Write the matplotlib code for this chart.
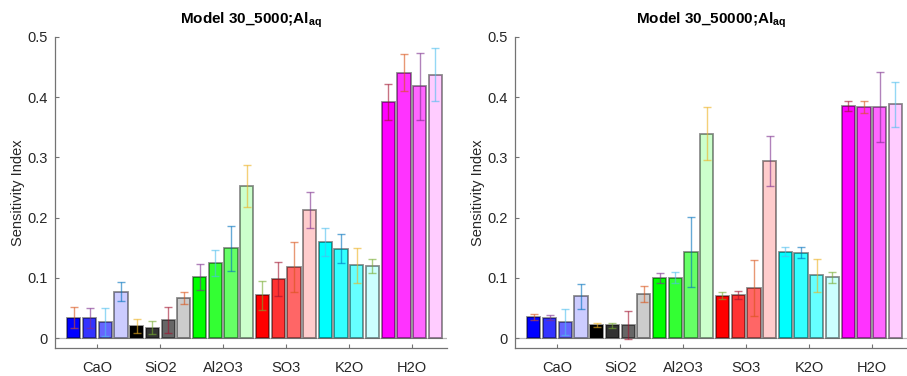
import numpy as np
import matplotlib.pyplot as plt

plt.rcParams['font.family'] = ['Liberation Sans', 'DejaVu Sans']
plt.rcParams['mathtext.fontset'] = 'custom'
plt.rcParams['mathtext.rm'] = 'Liberation Sans'
plt.rcParams['mathtext.bf'] = 'Liberation Sans:bold'

categories = ['CaO', 'SiO2', 'Al2O3', 'SO3', 'K2O', 'H2O']
yticks = [0, 0.1, 0.2, 0.3, 0.4, 0.5]
ytick_labels = ['0', '0.1', '0.2', '0.3', '0.4', '0.5']

# Sensitivity indices, one row per oxide, four estimates per oxide
si_5000 = [
    [0.034, 0.033, 0.027, 0.077],
    [0.020, 0.017, 0.030, 0.067],
    [0.101, 0.125, 0.149, 0.252],
    [0.071, 0.098, 0.118, 0.213],
    [0.159, 0.148, 0.121, 0.120],
    [0.392, 0.441, 0.418, 0.437],
]
err_5000 = [
    [0.017, 0.017, 0.023, 0.016],
    [0.012, 0.011, 0.022, 0.010],
    [0.022, 0.022, 0.037, 0.035],
    [0.024, 0.028, 0.041, 0.030],
    [0.023, 0.024, 0.029, 0.012],
    [0.030, 0.030, 0.056, 0.044],
]
si_50000 = [
    [0.035, 0.034, 0.027, 0.069],
    [0.021, 0.021, 0.022, 0.073],
    [0.100, 0.100, 0.143, 0.339],
    [0.070, 0.071, 0.083, 0.294],
    [0.143, 0.142, 0.104, 0.101],
    [0.386, 0.384, 0.384, 0.388],
]
err_50000 = [
    [0.005, 0.0045, 0.022, 0.020],
    [0.0035, 0.004, 0.023, 0.013],
    [0.0085, 0.009, 0.058, 0.044],
    [0.006, 0.007, 0.046, 0.041],
    [0.0075, 0.0085, 0.028, 0.009],
    [0.0085, 0.010, 0.0585, 0.037],
]

titles = ['Model 30_5000;Al$_{\\mathbf{aq}}$', 'Model 30_50000;Al$_{\\mathbf{aq}}$']

group_colors = [(0, 0, 1), (0, 0, 0), (0, 1, 0), (1, 0, 0), (0, 1, 1), (1, 0, 1)]
shade = [1.0, 0.8, 0.6, 0.2]
line_order = [(0.000, 0.447, 0.741), (0.850, 0.325, 0.098), (0.929, 0.694, 0.125),
              (0.494, 0.184, 0.556), (0.466, 0.674, 0.188), (0.301, 0.745, 0.933),
              (0.635, 0.078, 0.184)]

offsets = np.array([-0.375, -0.125, 0.125, 0.375])
bar_w = 0.21
axis_col = (0.45, 0.45, 0.45)
text_col = (0.15, 0.15, 0.15)


def blend(c, a):
    return tuple(a * ci + (1 - a) * 1.0 for ci in c)


def draw_panel(ax, vals, errs, title):
    vals = np.asarray(vals)
    errs = np.asarray(errs)
    x = np.arange(1, len(categories) + 1)
    k = 0
    for g in range(len(categories)):
        for j in range(4):
            xc = x[g] + offsets[j]
            ax.bar(xc, vals[g, j], width=bar_w,
                   color=blend(group_colors[g], shade[j]),
                   edgecolor=(0, 0, 0, 0.45), linewidth=1.3, zorder=2)
            ec = line_order[(2 * k + 1) % 7]
            ax.errorbar(xc, vals[g, j], yerr=errs[g, j], fmt='none',
                        ecolor=ec + (0.6,), elinewidth=1.0, capsize=3.0,
                        capthick=1.0, zorder=3)
            k += 1
    ax.axhline(0, color=(0.72, 0.72, 0.72), lw=0.9, zorder=1)
    ax.set_xlim(0.325, 6.56)
    ax.set_ylim(-0.0166, 0.5)
    ax.set_xticks(x)
    ax.set_xticklabels(categories)
    ax.set_yticks(yticks)
    ax.set_yticklabels(ytick_labels)
    ax.tick_params(direction='in', length=3, width=0.8, colors=axis_col,
                   labelcolor=text_col, labelsize=10.5)
    ax.tick_params(axis='x', pad=9)
    ax.tick_params(axis='y', pad=5)
    for s in ('top', 'right'):
        ax.spines[s].set_visible(False)
    for s in ('left', 'bottom'):
        ax.spines[s].set_color(axis_col)
        ax.spines[s].set_linewidth(0.9)
    ax.set_ylabel('Sensitivity Index', fontsize=10.5, color=text_col, labelpad=2)
    ax.set_title(title, fontsize=11, fontweight='bold', pad=10)


fig = plt.figure(figsize=(9.07, 3.76), dpi=100)
ax1 = fig.add_axes([55 / 907, 28 / 376, 392 / 907, 311 / 376])
ax2 = fig.add_axes([515 / 907, 28 / 376, 392 / 907, 311 / 376])
draw_panel(ax1, si_5000, err_5000, titles[0])
draw_panel(ax2, si_50000, err_50000, titles[1])

fig.savefig('out.png', dpi=100)
